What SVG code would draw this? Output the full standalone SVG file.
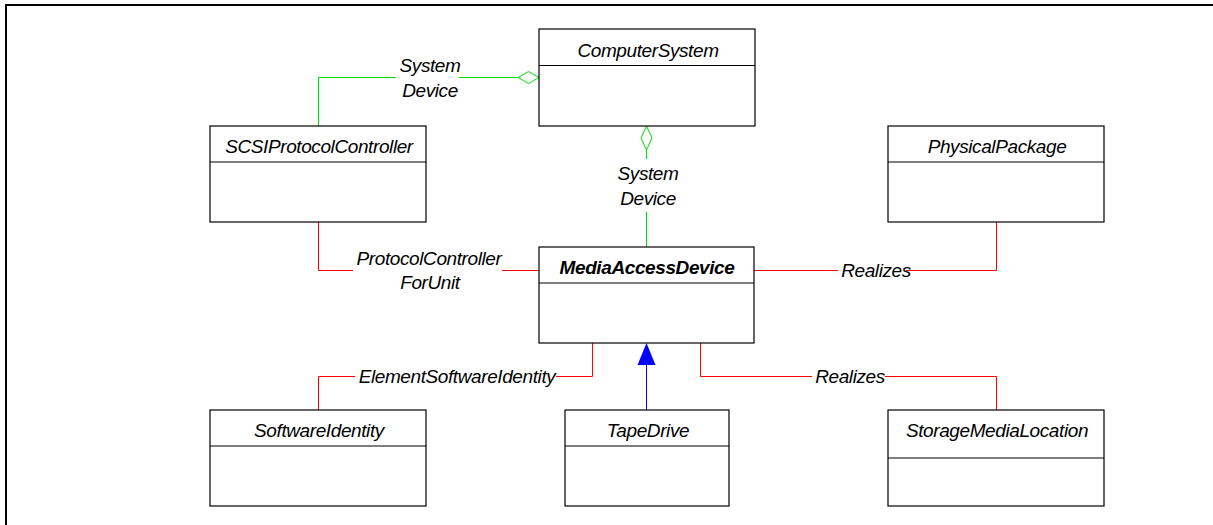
<svg xmlns="http://www.w3.org/2000/svg" width="1213" height="525" viewBox="0 0 1213 525">
<style>
  .box { fill: #fff; stroke: #000; stroke-width: 1.2; }
  .sep { stroke: #000; stroke-width: 1.2; }
  .t { font-family: "Liberation Sans", Arial, sans-serif; font-size: 19px; font-style: italic; letter-spacing: -0.4px; text-anchor: middle; fill: #000; }
  .b { font-weight: bold; }
  .g { fill: none; stroke: #00e000; stroke-width: 1; }
  .r { fill: none; stroke: #ff0000; stroke-width: 1; }
  .bl { fill: none; stroke: #0000ff; stroke-width: 1; }
</style>
<rect width="1213" height="525" fill="#fff"/>
<path d="M6 525 V5 H1213" fill="none" stroke="#000" stroke-width="2"/>

<g id="connectors">
  <path class="g" d="M318.5 126 V77.5 H396 M459 77.5 H518"/>
  <path d="M518 77.5 L528.5 71.5 L539 77.5 L528.5 83.5 Z" fill="#fff" stroke="#00e000" stroke-width="1"/>
  <path class="g" d="M646.5 150 V159 M646.5 212 V247"/>
  <path d="M646.5 126 L652 138 L646.5 150 L641 138 Z" fill="#fff" stroke="#00e000" stroke-width="1"/>
  <path class="r" d="M318.5 222 V270.5 H353 M502 270.5 H539"/>
  <path class="r" d="M754 270.5 H838 M906 270.5 H996.5 V222"/>
  <path class="r" d="M592.5 343 V376.5 H556 M355 376.5 H318.5 V410"/>
  <path class="r" d="M700.5 343 V376.5 H812 M885 376.5 H996.5 V410"/>
  <path class="bl" d="M646.5 410 V365"/>
  <path d="M646.5 343 L655.5 365 L637.5 365 Z" fill="#0000ff"/>
  <text class="t" x="430" y="72">System</text>
  <text class="t" x="430" y="97">Device</text>
  <text class="t" x="648" y="180">System</text>
  <text class="t" x="648" y="205">Device</text>
  <text class="t" x="429" y="265">ProtocolController</text>
  <text class="t" x="430" y="289">ForUnit</text>
  <text class="t" x="876" y="277">Realizes</text>
  <text class="t" x="457" y="383">ElementSoftwareIdentity</text>
  <text class="t" x="850" y="383">Realizes</text>
</g>

<g id="ComputerSystem">
  <rect class="box" x="539" y="29" width="216" height="97"/>
  <line class="sep" x1="539" y1="65.5" x2="755" y2="65.5"/>
  <text class="t" x="648" y="57">ComputerSystem</text>
</g>
<g id="SCSIProtocolController">
  <rect class="box" x="210" y="126" width="216" height="96"/>
  <line class="sep" x1="210" y1="162" x2="426" y2="162"/>
  <text class="t" x="319" y="153">SCSIProtocolController</text>
</g>
<g id="PhysicalPackage">
  <rect class="box" x="888" y="126" width="216" height="96"/>
  <line class="sep" x1="888" y1="162" x2="1104" y2="162"/>
  <text class="t" x="997" y="153">PhysicalPackage</text>
</g>
<g id="MediaAccessDevice">
  <rect class="box" x="539" y="247" width="215" height="96"/>
  <line class="sep" x1="539" y1="283" x2="754" y2="283"/>
  <text class="t b" x="647" y="273.5">MediaAccessDevice</text>
</g>
<g id="SoftwareIdentity">
  <rect class="box" x="210" y="410" width="216" height="96"/>
  <line class="sep" x1="210" y1="446" x2="426" y2="446"/>
  <text class="t" x="319" y="437">SoftwareIdentity</text>
</g>
<g id="TapeDrive">
  <rect class="box" x="565" y="410" width="164" height="96"/>
  <line class="sep" x1="565" y1="446" x2="729" y2="446"/>
  <text class="t" x="648" y="437">TapeDrive</text>
</g>
<g id="StorageMediaLocation">
  <rect class="box" x="888" y="410" width="216" height="96"/>
  <line class="sep" x1="888" y1="458" x2="1104" y2="458"/>
  <text class="t" x="997" y="437">StorageMediaLocation</text>
</g>
</svg>
